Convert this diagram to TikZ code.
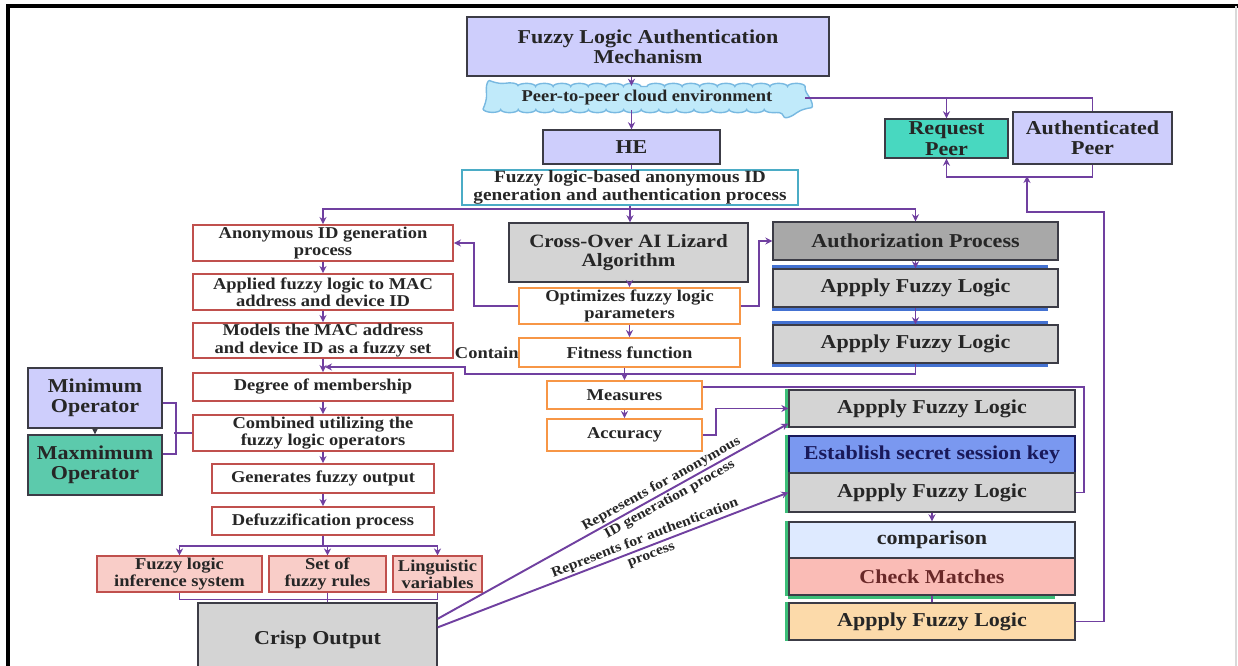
\documentclass[tikz,border=0pt]{standalone}
\usepackage{fontspec}
\setmainfont{Liberation Serif}[FakeStretch=1.12]
\usetikzlibrary{arrows.meta,positioning,shapes.misc,decorations.pathmorphing}

\definecolor{lavbox}{RGB}{206,206,252}
\definecolor{cloudfill}{RGB}{192,234,250}
\definecolor{clouddraw}{RGB}{120,185,225}
\definecolor{tealline}{RGB}{75,172,198}
\definecolor{redline}{RGB}{192,80,77}
\definecolor{orangeline}{RGB}{247,150,70}
\definecolor{reqteal}{RGB}{72,216,192}
\definecolor{maxteal}{RGB}{92,202,172}
\definecolor{boxgray}{RGB}{212,212,212}
\definecolor{darkgray}{RGB}{168,168,168}
\definecolor{estblue}{RGB}{122,152,240}
\definecolor{navy}{RGB}{25,25,90}
\definecolor{compblue}{RGB}{222,234,255}
\definecolor{checkpink}{RGB}{250,188,182}
\definecolor{checktext}{RGB}{105,40,40}
\definecolor{lastorange}{RGB}{252,218,170}
\definecolor{pinkbox}{RGB}{249,205,200}
\definecolor{linkpurple}{RGB}{112,64,160}
\definecolor{boxedge}{RGB}{60,60,70}
\definecolor{rimgreen}{RGB}{60,190,120}
\definecolor{rimblue}{RGB}{68,114,210}

\tikzset{
    block/.style = {
        draw = boxedge,
        line width = 0.8pt,
        align = center,
        inner sep = 0pt,
        text = black!85,
        font = \fontsize{11.2}{11.6}\selectfont\bfseries,
        },
    lav block/.style = {
        block,
        fill = lavbox,
        },
    gray block/.style = {
        block,
        fill = boxgray,
        },
    red block/.style = {
        block,
        draw = redline,
        line width = 1.1pt,
        fill = white,
        minimum width = 5.2cm,
        font = \fontsize{9.4}{9.8}\selectfont\bfseries,
        },
    pink block/.style = {
        red block,
        fill = pinkbox,
        line width = 0.6pt,
        minimum height = 0.72cm,
        },
    orange block/.style = {
        red block,
        draw = orangeline,
        },
    right block/.style = {
        gray block,
        minimum width = 5.72cm,
        },
    cloudy/.style = {
        rounded rectangle,
        draw = clouddraw,
        fill = cloudfill,
        line width = 0.8pt,
        inner sep = 0pt,
        text = black!85,
        font = \fontsize{9.4}{10}\selectfont\bfseries,
        decorate,
        decoration = {bumps, segment length=20pt, amplitude=1.8pt},
        },
    wire/.style = {
        draw = linkpurple,
        line width = 1.1pt,
        },
    flow/.style = {
        wire,
        -{Stealth[length=4pt, width=4pt]},
        },
    slant label/.style = {
        sloped,
        align = center,
        inner sep = 0pt,
        text = black!85,
        font = \fontsize{8}{10}\selectfont\bfseries,
        },
    green rim/.style = {
        draw = rimgreen,
        line width = 1.6pt,
        },
    blue rim/.style = {
        draw = rimblue,
        line width = 1.4pt,
        },
}

\begin{document}
\begin{tikzpicture}[x=0.02cm, y=-0.02cm]
    \useasboundingbox (0,0) rectangle (1238,666);
    \draw[line width=1.8pt] (8,666) -- (8,6) -- (1238,6);
    \draw[black!15, line width=1pt] (1236,6) -- (1236,666);

    % top
    \node [lav block, minimum width=7.24cm, minimum height=1.18cm] (top) at (648,46.5) {Fuzzy Logic Authentication\\Mechanism};
    \node [cloudy, minimum width=6.3cm, minimum height=0.46cm] (cloud) at (647,98) {Peer-to-peer cloud environment};
    \node [lav block, minimum width=3.54cm, minimum height=0.68cm] (he) at (631.5,147) {HE};
    \node [block, draw=tealline, line width=1.1pt, fill=white, minimum width=6.72cm, minimum height=0.7cm,
           font=\fontsize{9.8}{9.8}\selectfont\bfseries] (proc) at (630,187.5) {Fuzzy logic-based anonymous ID\\generation and authentication process};
    \node [block, fill=reqteal, minimum width=2.46cm, minimum height=0.78cm] (req) at (946.5,138.5) {Request\\Peer};
    \node [lav block, minimum width=3.18cm, minimum height=1.04cm] (authp) at (1092.5,138) {Authenticated\\Peer};

    % left column
    \node [red block, minimum height=0.72cm] (anon) at (323,243) {Anonymous ID generation\\process};
    \node [red block, minimum height=0.72cm] (appl) at (323,292) {Applied fuzzy logic to MAC\\address and device ID};
    \node [red block, minimum height=0.70cm] (models) at (323,340.5) {Models the MAC address\\and device ID as a fuzzy set};
    \node [red block, minimum height=0.56cm] (degree) at (323,387) {Degree of membership};
    \node [red block, minimum height=0.72cm] (comb) at (323,433) {Combined utilizing the\\fuzzy logic operators};
    \node [red block, minimum width=4.44cm, minimum height=0.58cm] (gen) at (323,478.5) {Generates fuzzy output};
    \node [red block, minimum width=4.44cm, minimum height=0.56cm] (defuzz) at (323,521) {Defuzzification process};

    \node [lav block, minimum width=2.68cm, minimum height=1.2cm] (minop) at (95,398) {Minimum\\Operator};
    \node [block, fill=maxteal, minimum width=2.68cm, minimum height=1.2cm] (maxop) at (95,465) {Maxmimum\\Operator};

    \node [pink block, minimum width=3.3cm] (fis) at (179.5,574) {Fuzzy logic\\inference system};
    \node [pink block, minimum width=2.34cm] (rules) at (327.5,574) {Set of\\fuzzy rules};
    \node [pink block, minimum width=1.78cm] (ling) at (437.5,574) {Linguistic\\variables};
    \node [gray block, minimum width=4.78cm, minimum height=1.48cm] (crisp) at (317.5,640) {Crisp Output};

    % middle column
    \node [gray block, minimum width=4.78cm, minimum height=1.18cm, font=\fontsize{10.7}{11.2}\selectfont\bfseries] (cross) at (628.5,252.5) {Cross-Over AI Lizard\\Algorithm};
    \node [orange block, minimum width=4.42cm, minimum height=0.72cm] (optim) at (629.5,306) {Optimizes fuzzy logic\\parameters};
    \node [orange block, minimum width=4.42cm, minimum height=0.58cm] (fit) at (629.5,352.5) {Fitness function};
    \node [orange block, minimum width=3.1cm, minimum height=0.56cm] (meas) at (624.5,395) {Measures};
    \node [orange block, minimum width=3.1cm, minimum height=0.64cm] (acc) at (624.5,435) {Accuracy};
    \node [anchor=east, inner sep=0pt, text=black!85, font=\fontsize{9.4}{10}\selectfont\bfseries] (contain) at (519,353) {Contain};

    % right column
    \node [block, fill=darkgray, minimum width=5.7cm, minimum height=0.76cm] (authz) at (915.5,241) {Authorization Process};
    \node [gray block, minimum width=5.7cm, minimum height=0.76cm] (ap1) at (915.5,288) {Appply Fuzzy Logic};
    \node [gray block, minimum width=5.7cm, minimum height=0.76cm] (ap2) at (915.5,344) {Appply Fuzzy Logic};

    \node [right block, minimum height=0.74cm] (ap3) at (932,408.5) {Appply Fuzzy Logic};
    \node [right block, fill=estblue, draw=navy, text=navy, minimum height=0.74cm] (estab) at (932,454.5) {Establish secret session key};
    \node [right block, minimum height=0.78cm] (ap4) at (932,492.5) {Appply Fuzzy Logic};
    \node [right block, fill=compblue, minimum height=0.72cm] (comp) at (932,540) {comparison};
    \node [right block, fill=checkpink, text=checktext, minimum height=0.74cm] (check) at (932,576.5) {Check Matches};
    \node [right block, fill=lastorange, minimum height=0.74cm] (ap5) at (932,621.5) {Appply Fuzzy Logic};

    \foreach \n in {ap3, estab, ap4, comp, check, ap5}
        \draw[green rim] ([xshift=-1.2pt]\n.north west) -- ([xshift=-1.2pt]\n.south west);
    \draw[green rim] ([yshift=-1.2pt]check.south west) -- ([xshift=-12pt, yshift=-1.2pt]check.south east);
    \foreach \n in {ap1, ap2} {
        \draw[blue rim] ([yshift=1pt]\n.north west) -- ([xshift=-6pt, yshift=1pt]\n.north east);
        \draw[blue rim] ([yshift=-1pt]\n.south west) -- ([xshift=-6pt, yshift=-1pt]\n.south east);
    }

    % connectors, top
    \draw[flow] (top.south -| he.north) -- (cloud.north -| he.north);
    \draw[flow] (cloud.south -| he.north) -- (he.north);
    \draw[wire] (he.south) -- (he.south |- proc.north);
    \draw[flow] (proc.south) -- ++(0,3) -| (anon.north);
    \draw[flow] (proc.south) -- ++(0,3) -| (authz.north);
    \draw[flow] (proc.south) -- (proc.south |- cross.north);
    \draw[wire] (cloud.east) -| (authp.north);
    \draw[flow] (cloud.east -| req.north) -- (req.north);
    \draw[flow] (authp.south) -- ++(0,12) -| (req.south);
    \coordinate (back) at (1027,176);
    \draw[flow] (ap5.east) -- ++(28,0) |- (1027,212) -- (back);

    % left column
    \foreach \a/\b in {anon/appl, appl/models, models/degree, degree/comb, comb/gen, gen/defuzz}
        \draw[flow] (\a.south) -- (\b.north);
    \draw[flow] (defuzz.south) -- ++(0,10) -| (fis.north);
    \draw[flow] (defuzz.south) -- ++(0,10) -| (rules.north);
    \draw[flow] (defuzz.south) -- ++(0,10) -| (ling.north);
    \draw[wire] (fis.south) -- ++(0,7) -| (ling.south);
    \draw[wire] (rules.south) -- (rules.south |- crisp.north);
    \draw[wire] (minop.-4) -- ++(13,0) |- (maxop.9);
    \draw[wire] (comb.west) -- ++(-18,0);
    \draw[flow, draw=boxedge] (minop.south) -- (maxop.north);

    % middle column
    \draw[flow] (cross.south -| optim.north) -- (optim.north);
    \draw[flow] (optim.south) -- (fit.north);
    \draw[flow] (meas.north |- fit.south) -- (meas.north);
    \draw[flow] (meas.south) -- (acc.north);
    \draw[flow] (optim.west) -- ++(-44,0) |- (anon.east);
    \draw[flow] (optim.east) -- ++(18,0) |- (authz.west);
    \coordinate (into) at (325,367);
    \draw[flow] (ap2.south) -- ++(0,10) -| (465,367) -- (into);
    \draw[wire] (meas.6) -- ++(381,0) |- (ap4.east);
    \draw[flow] (acc.east) -- ++(13,0) |- (ap3.west);

    \draw[flow] (crisp.10) -- node[slant label, pos=0.65] (rep1) {Represents for anonymous\\ID generation process} (ap3.186);
    \draw[flow] (crisp.6) -- node[slant label, pos=0.6] (rep2) {Represents for authentication\\process} (ap4.west);

    % right column
    \draw[flow] (authz.south) -- (ap1.north);
    \draw[flow] (ap1.south) -- (ap2.north);
    \draw[flow] (ap4.south) -- (comp.north);
    \draw[wire] (check.south) -- (ap5.north);
\end{tikzpicture}
\end{document}
